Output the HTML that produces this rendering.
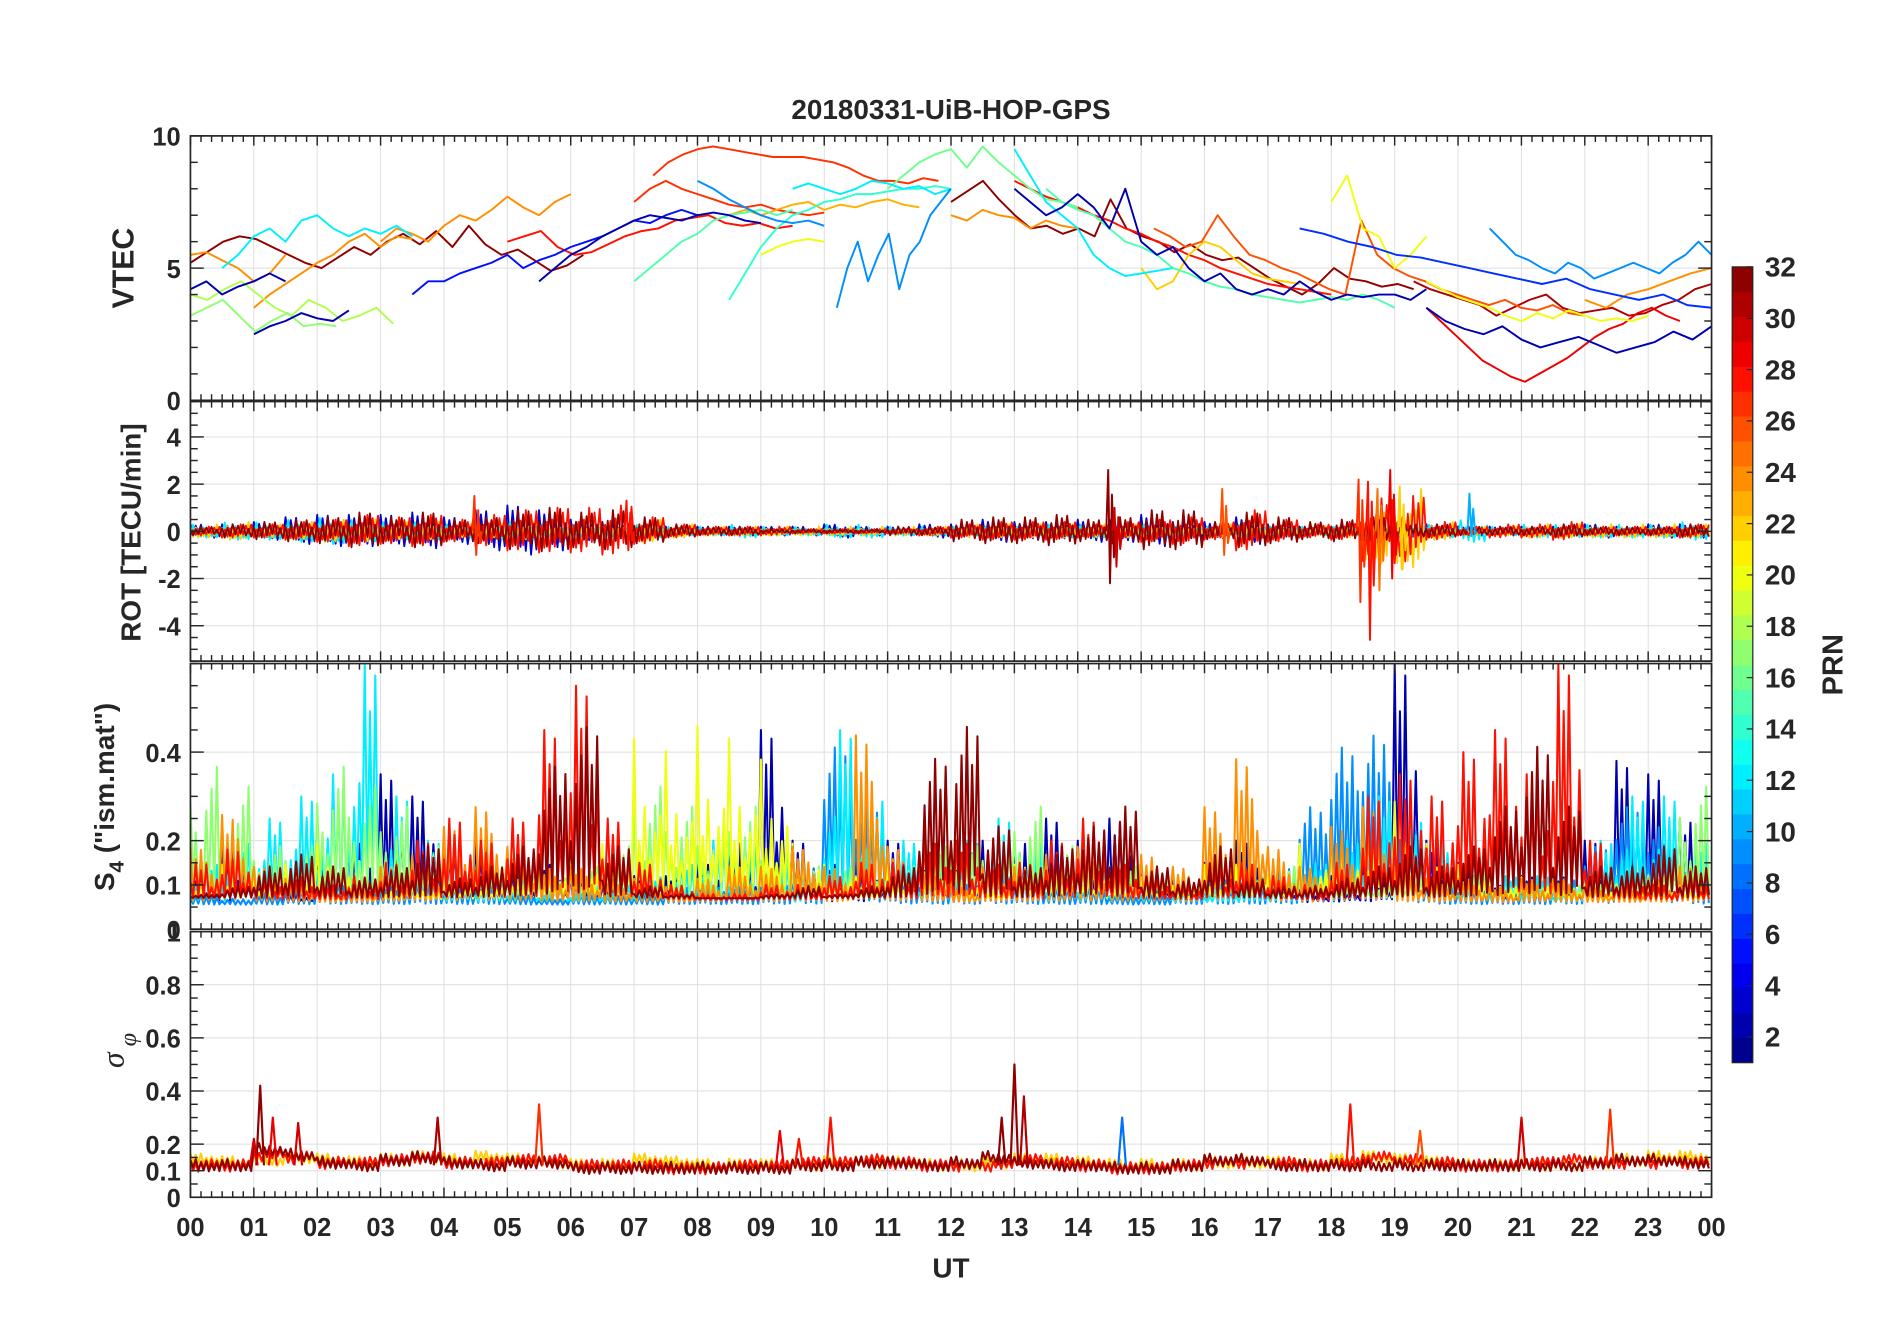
<!DOCTYPE html>
<html><head><meta charset="utf-8"><title>20180331-UiB-HOP-GPS</title>
<style>
html,body{margin:0;padding:0;background:#fff;}
svg{display:block;font-family:"Liberation Sans",Arial,sans-serif;}
.tk{font-weight:bold;fill:#262626;}
</style></head>
<body>
<svg id="chart" width="1902" height="1330" viewBox="0 0 1568 1096.4" xmlns="http://www.w3.org/2000/svg">
<rect x="0" y="0" width="1568" height="1096.4" fill="#fff"/>
<text x="784" y="98" text-anchor="middle" class="tk" font-size="23">20180331-UiB-HOP-GPS</text>
<g id="panels"></g>
<g id="cbar"></g>
<text x="784" y="1053" text-anchor="middle" class="tk" font-size="23">UT</text>
<text transform="translate(110,221) rotate(-90)" text-anchor="middle" class="tk" font-size="25">VTEC</text>
<text transform="translate(116,439) rotate(-90)" text-anchor="middle" class="tk" font-size="23">ROT [TECU/min]</text>
<text transform="translate(94,657) rotate(-90)" text-anchor="middle" class="tk" font-size="23">S<tspan font-size="17" dy="8">4</tspan><tspan dy="-8"> ("ism.mat")</tspan></text>
<text transform="translate(102,866) rotate(-90)" text-anchor="middle" font-size="26" font-style="italic" font-family="Liberation Serif,serif" fill="#262626">σ<tspan font-size="20" dy="10"> φ</tspan></text>
<text transform="translate(1519,548) rotate(-90)" text-anchor="middle" class="tk" font-size="24">PRN</text>
</svg>
<script>
// ---------------- DATA ----------------
const hourTicks = ["00","01","02","03","04","05","06","07","08","09","10","11","12","13","14","15","16","17","18","19","20","21","22","23","00"];
const prnTicks = [2,4,6,8,10,12,14,16,18,20,22,24,26,28,30,32];

// VTEC tracks
const vtecPrn   = [32,32,31,29,28,27,27,26,28,24,24,24,23,22,24,24,20,20,20,18,17,16,15,14,15,12,12,12,9,9,9,5,2,2,2,2,2,6];
const vtecStart = [0,12,19.3,19.5,5,7.3,7.0,15.2,13,0,1,3,8.5,15,12,22,9.0,18,19.5,0,0,11,7,8.5,13.5,0.5,9.5,13,10.2,8,20.5,3.5,0,1,5.5,13,19.5,17.5];
const vtecEnd   = [6.2,19.3,24,23.5,9.5,11.8,10,22,18,1.5,3.5,6,11.5,17.5,14,24,10,19.5,23,3.2,2.3,14,9.5,12,19,3.5,12,15.5,12,10,24,8,1.5,2.5,9,19.5,24,24];
const vtecValues = [
 [5.2,5.6,6.0,6.2,6.1,5.8,5.5,5.2,5.0,5.4,5.8,5.5,6.0,6.3,5.9,6.4,5.8,6.6,5.9,5.5,5.7,5.3,4.9,5.1,5.5],
 [7.5,7.9,8.3,7.6,7.0,6.5,6.6,6.3,6.5,6.2,7.6,6.5,6.2,6.0,5.6,5.9,5.5,5.3,5.4,5.0,4.6,4.3,4.0,4.4,5.0,4.6,4.5,4.3,4.4,4.2],
 [4.5,4.2,4.0,3.8,3.6,3.2,3.5,3.8,4.0,3.5,3.3,3.4,3.5,3.2,3.3,3.6,3.8,4.2,4.4],
 [3.5,3.0,2.5,2.0,1.5,1.2,0.9,0.7,1.0,1.3,1.6,2.0,2.4,2.7,2.9,3.3,3.5,3.2,3.0],
 [6.0,6.2,6.4,5.8,5.5,5.6,5.9,6.2,6.4,6.5,6.8,6.9,7.0,6.7,6.6,6.7,6.5,6.6],
 [8.5,9.0,9.3,9.5,9.6,9.5,9.4,9.3,9.2,9.2,9.2,9.1,9.0,8.8,8.5,8.3,8.3,8.2,8.4,8.3],
 [7.5,8.0,8.3,8.0,7.8,7.6,7.4,7.3,7.4,7.2,7.1,7.0,7.1],
 [6.5,6.2,5.8,6.0,7.0,6.2,5.5,5.3,5.0,4.8,4.5,4.2,4.0,6.8,5.5,5.0,4.7,4.5,4.2,4.0,3.8,3.6,3.8,3.5,3.4,3.6,3.3,3.2],
 [8.3,8.0,7.7,7.5,7.3,7.0,6.8,6.5,6.3,6.0,5.8,5.5,5.3,5.0,4.8,4.6,4.4,4.3,4.2,4.1,4.0],
 [5.5,5.6,5.3,5.0,4.5,4.8,5.5],
 [3.5,4.0,4.4,4.8,5.2,5.5,6.0,6.3,5.8,6.2,6.1],
 [6.0,6.5,6.3,6.0,6.6,7.0,6.8,7.2,7.7,7.3,7.0,7.5,7.8],
 [7.0,7.2,7.0,7.2,7.4,7.5,7.2,7.4,7.3,7.5,7.6,7.4,7.3],
 [5.0,4.2,4.5,5.5,6.0,5.8,5.3,4.8,4.6,4.5,4.4],
 [7.0,6.8,7.2,7.0,6.9,6.5,6.8,6.6,6.5],
 [3.8,3.5,4.0,4.2,4.5,4.8,5.0],
 [5.5,5.8,6.0,6.1,6.0],
 [7.5,8.5,6.5,6.2,5.0,5.5,6.2],
 [4.5,4.2,3.9,3.7,3.5,3.2,3.0,3.3,3.1,3.4,3.2,3.0,3.1,3.0,3.2],
 [4.0,3.8,4.2,4.5,4.0,3.5,3.2,3.8,3.5,3.0,3.2,3.5,2.9],
 [3.2,3.5,3.8,3.2,2.6,3.0,3.3,2.8,2.9,2.8],
 [8.0,8.5,9.0,9.3,9.5,8.8,9.6,9.0,8.5,8.0,7.6,7.5,7.3],
 [4.5,5.0,5.5,6.0,6.3,6.8,7.0,7.1,7.2,7.0,7.2],
 [3.8,4.8,5.8,6.5,7.0,7.2,7.5,7.6,7.8,7.8,7.9,8.0,8.0,8.1,8.0],
 [8.0,7.5,7.2,7.0,6.5,6.0,5.8,5.5,5.0,4.8,4.5,4.3,4.2,4.0,3.9,3.8,3.7,3.8,3.9,3.8,4.0,3.8,3.5],
 [5.0,5.5,6.2,6.5,6.0,6.8,7.0,6.5,6.2,6.5,6.3,6.6,6.2],
 [8.0,8.2,8.0,7.8,8.0,8.3,8.2,8.0,8.1,7.8,8.0],
 [9.5,8.5,7.5,7.0,6.5,5.5,5.0,4.7,4.8,4.9,5.0],
 [3.5,5.0,6.0,4.5,5.5,6.3,4.2,5.5,6.0,7.0,7.5,8.0],
 [8.3,8.0,7.6,7.3,7.0,6.8,6.7,6.8,6.6],
 [6.5,6.0,5.5,5.3,5.0,4.8,5.2,5.0,4.6,4.8,5.0,5.2,5.0,4.8,5.2,5.5,6.0,5.5],
 [4.0,4.5,4.5,4.8,5.0,5.2,5.5,5.0,5.3,5.5,5.8,6.0,6.2,6.5,6.8,6.7,7.0,7.2,7.0],
 [4.2,4.5,4.0,4.3,4.5,4.8,4.5],
 [2.5,2.8,3.0,3.3,3.1,3.0,3.4],
 [4.5,5.0,5.5,5.8,6.2,6.5,6.8,7.0,6.9,6.8,7.0,7.1,7.0,6.8,6.7],
 [8.0,7.5,7.0,7.3,7.8,7.3,6.5,8.0,6.0,5.5,5.8,5.0,4.5,4.8,4.2,4.0,4.2,4.0,4.5,4.1,3.8,4.0,3.9,4.0,4.0,3.8,4.2],
 [3.5,3.0,2.7,2.5,2.8,2.3,2.0,2.2,2.4,2.1,1.8,2.0,2.2,2.6,2.3,2.8],
 [6.5,6.3,6.0,5.8,5.5,5.4,5.2,5.0,4.8,4.6,4.4,4.6,4.2,4.0,3.8,4.0,3.6,3.5]
];

// ROT: amplitude per 30-min bin (48 bins)
const rotPrn = [3,12,22,28,32];
const rotAmp = [
 [0.3,0.3,0.4,0.6,0.7,0.7,0.7,0.8,0.6,0.9,1.1,0.9,0.5,0.4,0.2,0.2,0.2,0.2,0.2,0.2,0.3,0.2,0.2,0.3,0.3,0.5,0.4,0.4,0.5,0.5,0.7,0.4,0.4,0.6,0.3,0.2,0.2,0.3,0.3,0.3,0.2,0.2,0.2,0.2,0.3,0.2,0.3,0.3],
 [0.3,0.4,0.4,0.5,0.6,0.5,0.4,0.4,0.3,0.4,0.4,0.3,0.3,0.3,0.3,0.2,0.2,0.3,0.2,0.2,0.3,0.3,0.2,0.2,0.2,0.2,0.2,0.3,0.3,0.2,0.3,0.2,0.2,0.3,0.2,0.2,0.2,0.3,0.4,0.3,0.5,0.2,0.3,0.3,0.3,0.3,0.3,0.4],
 [0.3,0.4,0.3,0.4,0.5,0.5,0.4,0.4,0.3,0.3,0.4,0.3,0.3,0.3,0.5,0.3,0.2,0.2,0.2,0.2,0.2,0.2,0.2,0.2,0.3,0.3,0.3,0.3,0.3,0.3,0.3,0.2,0.3,0.3,0.2,0.2,0.3,1.6,1.8,0.4,0.2,0.2,0.3,0.3,0.3,0.3,0.3,0.3],
 [0.2,0.3,0.3,0.4,0.5,0.7,0.6,0.7,0.5,0.7,0.9,1.0,1.0,1.1,0.6,0.3,0.2,0.2,0.2,0.1,0.1,0.1,0.1,0.2,0.3,0.4,0.4,0.4,0.3,0.4,0.5,0.6,0.4,0.9,0.5,0.3,0.4,1.4,1.5,0.4,0.2,0.3,0.3,0.4,0.2,0.2,0.2,0.3],
 [0.2,0.3,0.4,0.5,0.6,0.8,0.6,0.8,0.5,0.6,0.9,1.0,0.8,0.9,0.6,0.3,0.2,0.2,0.1,0.1,0.1,0.1,0.2,0.2,0.5,0.6,0.6,0.7,0.5,0.6,0.9,0.9,0.4,0.8,0.6,0.4,0.5,0.6,0.3,0.3,0.2,0.2,0.2,0.3,0.2,0.2,0.2,0.3]
];
const rotSpikeHour = [14.5,14.6,16.3,18.45,18.6,18.75,18.95,19.1,20.2,6.9,4.5];
const rotSpikeMax  = [2.6,1.0,1.8,2.2,2.1,1.8,2.6,1.9,1.6,1.3,1.5];
const rotSpikeMin  = [-2.2,-1.5,-1.0,-3.0,-4.6,-2.5,-2.0,-1.6,-0.2,-0.8,-1.0];
const rotSpikePrn  = [32,30,26,27,28,25,29,22,10,28,27];

// S4: peak value per 30-min bin (48 bins); drawn in listed order (reds last)
const s4Prn = [2,9,12,17,20,24,28,32];
const s4Peak = [
 [0.12,0.2,0.1,0.08,0.15,0.2,0.35,0.3,0.2,0.2,0.15,0.15,0.12,0.1,0.12,0.12,0.15,0.2,0.45,0.2,0.15,0.15,0.2,0.15,0.15,0.2,0.2,0.25,0.2,0.25,0.15,0.12,0.15,0.2,0.12,0.1,0.12,0.15,0.6,0.2,0.15,0.1,0.12,0.12,0.2,0.38,0.35,0.25],
 [0.08,0.07,0.08,0.1,0.12,0.1,0.1,0.12,0.1,0.1,0.08,0.07,0.08,0.08,0.08,0.1,0.1,0.1,0.12,0.15,0.45,0.3,0.15,0.12,0.12,0.15,0.12,0.1,0.1,0.08,0.08,0.1,0.12,0.12,0.15,0.3,0.45,0.48,0.25,0.12,0.1,0.1,0.1,0.12,0.2,0.3,0.25,0.15],
 [0.15,0.2,0.25,0.3,0.35,0.6,0.3,0.2,0.15,0.12,0.12,0.1,0.1,0.1,0.12,0.15,0.2,0.2,0.15,0.12,0.45,0.3,0.2,0.15,0.2,0.25,0.2,0.15,0.15,0.12,0.12,0.1,0.1,0.12,0.12,0.15,0.2,0.3,0.25,0.2,0.12,0.12,0.12,0.1,0.2,0.3,0.3,0.2],
 [0.4,0.35,0.2,0.2,0.4,0.35,0.3,0.2,0.15,0.15,0.12,0.12,0.15,0.2,0.35,0.3,0.25,0.3,0.2,0.15,0.15,0.12,0.15,0.2,0.2,0.2,0.3,0.2,0.2,0.15,0.12,0.1,0.1,0.12,0.15,0.12,0.1,0.1,0.12,0.12,0.15,0.1,0.1,0.1,0.12,0.12,0.15,0.35],
 [0.12,0.15,0.12,0.15,0.2,0.12,0.1,0.1,0.12,0.12,0.15,0.15,0.18,0.2,0.45,0.42,0.48,0.45,0.4,0.2,0.15,0.12,0.15,0.15,0.12,0.1,0.15,0.15,0.15,0.12,0.12,0.1,0.15,0.15,0.12,0.2,0.2,0.25,0.3,0.2,0.15,0.12,0.12,0.1,0.1,0.1,0.1,0.1],
 [0.2,0.28,0.15,0.12,0.1,0.1,0.15,0.18,0.25,0.3,0.2,0.15,0.15,0.12,0.12,0.1,0.12,0.15,0.15,0.2,0.15,0.48,0.2,0.15,0.1,0.15,0.15,0.18,0.2,0.15,0.18,0.15,0.3,0.42,0.2,0.15,0.25,0.3,0.15,0.12,0.12,0.1,0.12,0.12,0.1,0.1,0.12,0.15],
 [0.15,0.18,0.12,0.12,0.1,0.12,0.15,0.2,0.25,0.2,0.25,0.45,0.55,0.25,0.15,0.1,0.08,0.08,0.1,0.1,0.12,0.15,0.15,0.2,0.2,0.15,0.15,0.2,0.25,0.15,0.12,0.1,0.15,0.15,0.12,0.1,0.15,0.3,0.35,0.3,0.4,0.45,0.35,0.6,0.2,0.12,0.1,0.12],
 [0.08,0.1,0.15,0.18,0.15,0.12,0.15,0.2,0.12,0.15,0.2,0.4,0.5,0.2,0.1,0.08,0.07,0.07,0.08,0.1,0.08,0.1,0.15,0.42,0.5,0.25,0.15,0.2,0.25,0.3,0.15,0.12,0.2,0.12,0.1,0.1,0.12,0.15,0.2,0.15,0.2,0.3,0.45,0.3,0.15,0.15,0.2,0.15]
];
const s4Base = [0.06,0.055,0.06,0.07,0.065,0.06,0.065,0.07];

// sigma phi
const sigPrn = [22,28,32];
const sigBase = [
 [0.14,0.13,0.14,0.15,0.14,0.13,0.14,0.15,0.14,0.15,0.14,0.13,0.12,0.12,0.14,0.13,0.12,0.12,0.12,0.12,0.13,0.13,0.13,0.12,0.12,0.13,0.14,0.14,0.13,0.12,0.12,0.12,0.13,0.13,0.13,0.12,0.14,0.15,0.14,0.13,0.12,0.12,0.12,0.12,0.13,0.14,0.15,0.15],
 [0.12,0.12,0.16,0.15,0.13,0.13,0.14,0.15,0.13,0.13,0.14,0.14,0.12,0.12,0.12,0.11,0.11,0.12,0.12,0.13,0.13,0.14,0.13,0.12,0.12,0.12,0.14,0.13,0.12,0.11,0.11,0.12,0.13,0.13,0.13,0.12,0.13,0.15,0.14,0.13,0.12,0.12,0.13,0.14,0.13,0.13,0.13,0.13],
 [0.12,0.12,0.18,0.16,0.13,0.12,0.14,0.15,0.13,0.12,0.13,0.13,0.11,0.11,0.11,0.11,0.11,0.11,0.11,0.12,0.12,0.13,0.13,0.12,0.13,0.15,0.13,0.12,0.12,0.11,0.11,0.12,0.14,0.14,0.12,0.12,0.12,0.12,0.12,0.12,0.12,0.12,0.12,0.12,0.13,0.14,0.14,0.13]
];
const sigSpikeHour = [1.1,1.3,1.7,3.9,5.5,9.3,9.6,10.1,12.8,13.0,13.15,14.7,18.3,19.4,21.0,22.4,1.0];
const sigSpikeVal  = [0.42,0.3,0.28,0.3,0.35,0.25,0.22,0.3,0.3,0.5,0.38,0.3,0.35,0.25,0.3,0.33,0.22];
const sigSpikePrn  = [32,29,30,31,27,29,28,28,32,32,31,8,28,26,30,27,30];

// ---------------- RENDER ----------------
const NS = "http://www.w3.org/2000/svg";
const X0 = 157, X1 = 1411;
function xS(h){ return X0 + (X1 - X0) * h / 24; }
const panels = {
 vtec:{top:112,bot:330,min:0,max:10,major:[0,5,10],minor:1},
 rot:{top:331,bot:545,min:-5.5,max:5.5,major:[-4,-2,0,2,4],minor:0.5},
 s4:{top:547,bot:766,min:0,max:0.6,major:[0,0.1,0.2,0.4],minor:0.05},
 sig:{top:768,bot:987,min:0,max:1,major:[0,0.1,0.2,0.4,0.6,0.8],minor:0.05}
};
function yS(p,v){ return p.bot - (v - p.min) / (p.max - p.min) * (p.bot - p.top); }
function jet(i){
 const t = (i - 0.5) / 32;
 const f = x => Math.max(0, Math.min(1, x));
 const r = f(Math.min(4*t-1.5, -4*t+4.5));
 const g = f(Math.min(4*t-0.5, -4*t+3.5));
 const b = f(Math.min(4*t+0.5, -4*t+2.5));
 return `rgb(${Math.round(r*255)},${Math.round(g*255)},${Math.round(b*255)})`;
}
function mk(tag, attrs, parent){
 const e = document.createElementNS(NS, tag);
 for (const k in attrs) e.setAttribute(k, attrs[k]);
 parent.appendChild(e);
 return e;
}
const root = document.getElementById('panels');
const pattern = [1,0.45,0.8,0.3,0.95,0.6,0.35,0.75,0.55,0.9,0.25,0.7,0.4,0.85,0.5,0.65];

Object.keys(panels).forEach((key) => {
 const p = panels[key];
 const g = mk('g', {}, root);
 
 
 for (let h = 1; h < 24; h++) mk('line', {x1:xS(h), x2:xS(h), y1:p.top, y2:p.bot, stroke:'#dedede', 'stroke-width':0.8}, g);
 p.major.forEach(v => { if (v > p.min && v < p.max) mk('line', {x1:X0, x2:X1, y1:yS(p,v), y2:yS(p,v), stroke:'#dedede', 'stroke-width':0.8}, g); });
 const cid = 'clip-' + key;
 const cp = mk('clipPath', {id:cid}, g);
 mk('rect', {x:X0, y:p.top, width:X1-X0, height:p.bot-p.top}, cp);
 const data = mk('g', {'clip-path':`url(#${cid})`, fill:'none', 'stroke-linejoin':'round'}, g);
 
 
 p.data = data;
 p.g = g;
});

// VTEC
vtecValues.forEach((vals, i) => {
 const p = panels.vtec, n = vals.length;
 const pts = vals.map((v, j) => xS(vtecStart[i] + (vtecEnd[i]-vtecStart[i]) * j / (n-1)).toFixed(1) + ',' + yS(p, v).toFixed(1)).join(' ');
 const l = mk('polyline', {points:pts, stroke:jet(vtecPrn[i]), 'stroke-width':1.6}, p.data);
 
 
});
// ROT
rotAmp.forEach((amps, i) => {
 const p = panels.rot; const pts = [];
 amps.forEach((a, b) => {
  for (let k = 0; k < 12; k++) {
   const h = b*0.5 + k/24;
   const s = (k % 2 === 0 ? 1 : -1) * ((i % 2) ? -1 : 1);
   pts.push(xS(h).toFixed(1) + ',' + yS(p, s * a * pattern[(k+3*i) % 16]).toFixed(1));
  }
 });
 const l = mk('polyline', {points:pts.join(' '), stroke:jet(rotPrn[i]), 'stroke-width':1.5}, p.data);
 
 
});
rotSpikeHour.forEach((h, i) => {
 const p = panels.rot;
 const pts = [[h-0.05,0],[h-0.02,rotSpikeMax[i]],[h+0.01,rotSpikeMin[i]],[h+0.04,rotSpikeMax[i]*0.6],[h+0.07,rotSpikeMin[i]*0.5],[h+0.1,0]]
  .map(q => xS(q[0]).toFixed(1) + ',' + yS(p, q[1]).toFixed(1)).join(' ');
 const l = mk('polyline', {points:pts, stroke:jet(rotSpikePrn[i]), 'stroke-width':1.6}, p.data);
 
 
});
// S4
s4Peak.forEach((peaks, i) => {
 const p = panels.s4; const pts = [];
 peaks.forEach((a, b) => {
  for (let k = 0; k < 12; k++) {
   const h = b*0.5 + k/24;
   const base = s4Base[i];
   const v = (k % 2 === 0) ? base + (a - base) * pattern[(k+5*i) % 16] : base + (a - base) * 0.12 * pattern[(k+i) % 16];
   pts.push(xS(h).toFixed(1) + ',' + yS(p, v).toFixed(1));
  }
 });
 const l = mk('polyline', {points:pts.join(' '), stroke:jet(s4Prn[i]), 'stroke-width':1.7}, p.data);
 
 
});
// sigma
sigBase.forEach((vals, i) => {
 const p = panels.sig; const pts = [];
 vals.forEach((a, b) => {
  for (let k = 0; k < 12; k++) {
   const h = b*0.5 + k/24;
   const v = a + ((k % 2 === 0) ? 1 : -1) * 0.025 * pattern[(k+i) % 16];
   pts.push(xS(h).toFixed(1) + ',' + yS(p, v).toFixed(1));
  }
 });
 const l = mk('polyline', {points:pts.join(' '), stroke:jet(sigPrn[i]), 'stroke-width':1.7}, p.data);
 
 
});
sigSpikeHour.forEach((h, i) => {
 const p = panels.sig;
 const pts = [[h-0.06,0.12],[h,sigSpikeVal[i]],[h+0.06,0.12]].map(q => xS(q[0]).toFixed(1) + ',' + yS(p, q[1]).toFixed(1)).join(' ');
 const l = mk('polyline', {points:pts, stroke:jet(sigSpikePrn[i]), 'stroke-width':1.8}, p.data);
 
 
});

// axes, ticks
Object.keys(panels).forEach((key) => {
 const p = panels[key], g = p.g;
 const ax = mk('g', {stroke:'#262626', 'stroke-width':1.2}, g);
 for (let m = 0; m <= 24*6; m++) {
  const x = xS(m/6), major = (m % 6 === 0), len = major ? 8 : 5;
  mk('line', {x1:x, x2:x, y1:p.bot, y2:p.bot-len}, ax);
  mk('line', {x1:x, x2:x, y1:p.top, y2:p.top+len}, ax);
 }
 const nMin = Math.round((p.max - p.min) / p.minor);
 for (let k = 0; k <= nMin; k++) {
  const v = p.min + k * p.minor, y = yS(p, v);
  const isMaj = p.major.some(m => Math.abs(m - v) < 1e-6);
  const len = isMaj ? 11 : 6;
  mk('line', {x1:X0, x2:X0+len, y1:y, y2:y}, ax);
  mk('line', {x1:X1, x2:X1-len, y1:y, y2:y}, ax);
 }
 mk('rect', {x:X0, y:p.top, width:X1-X0, height:p.bot-p.top, fill:'none', stroke:'#262626', 'stroke-width':1.4}, g);
 p.major.forEach(v => {
  const t = mk('text', {x:X0-8, y:yS(p,v)+8, 'text-anchor':'end', class:'tk', 'font-size':21}, g);
  t.textContent = String(v);
  
  
 });
});
{
 const t = mk('text', {x:X0-8, y:panels.sig.top+8, 'text-anchor':'end', class:'tk', 'font-size':21}, panels.sig.g);
 t.textContent = '1';
 
 
}
hourTicks.forEach((lab, i) => {
 const t = mk('text', {x:xS(i), y:1019, 'text-anchor':'middle', class:'tk', 'font-size':21}, root);
 t.textContent = lab;
 
 
});
// colorbar
const cb = document.getElementById('cbar');
const CB = {x:1428, w:17, top:220, bot:876, min:1, max:32};
function cbY(v){ return CB.bot - (v - CB.min) / (CB.max - CB.min) * (CB.bot - CB.top); }
for (let i = 1; i <= 32; i++) {
 const y0 = CB.bot - (i-1) * (CB.bot-CB.top)/32, y1 = CB.bot - i * (CB.bot-CB.top)/32;
 const r = mk('rect', {x:CB.x, y:y1, width:CB.w, height:y0-y1+0.4, fill:jet(i)}, cb);
 
 
}
mk('rect', {x:CB.x, y:CB.top, width:CB.w, height:CB.bot-CB.top, fill:'none', stroke:'#262626', 'stroke-width':1}, cb);
prnTicks.forEach(v => {
 const y = cbY(v);
 mk('line', {x1:CB.x+CB.w, x2:CB.x+CB.w-5, y1:y, y2:y, stroke:'#262626', 'stroke-width':1}, cb);
 const t = mk('text', {x:1455, y:y+8, class:'tk', 'font-size':23}, cb);
 t.textContent = String(v);
 
 
});
</script>
</body></html>
